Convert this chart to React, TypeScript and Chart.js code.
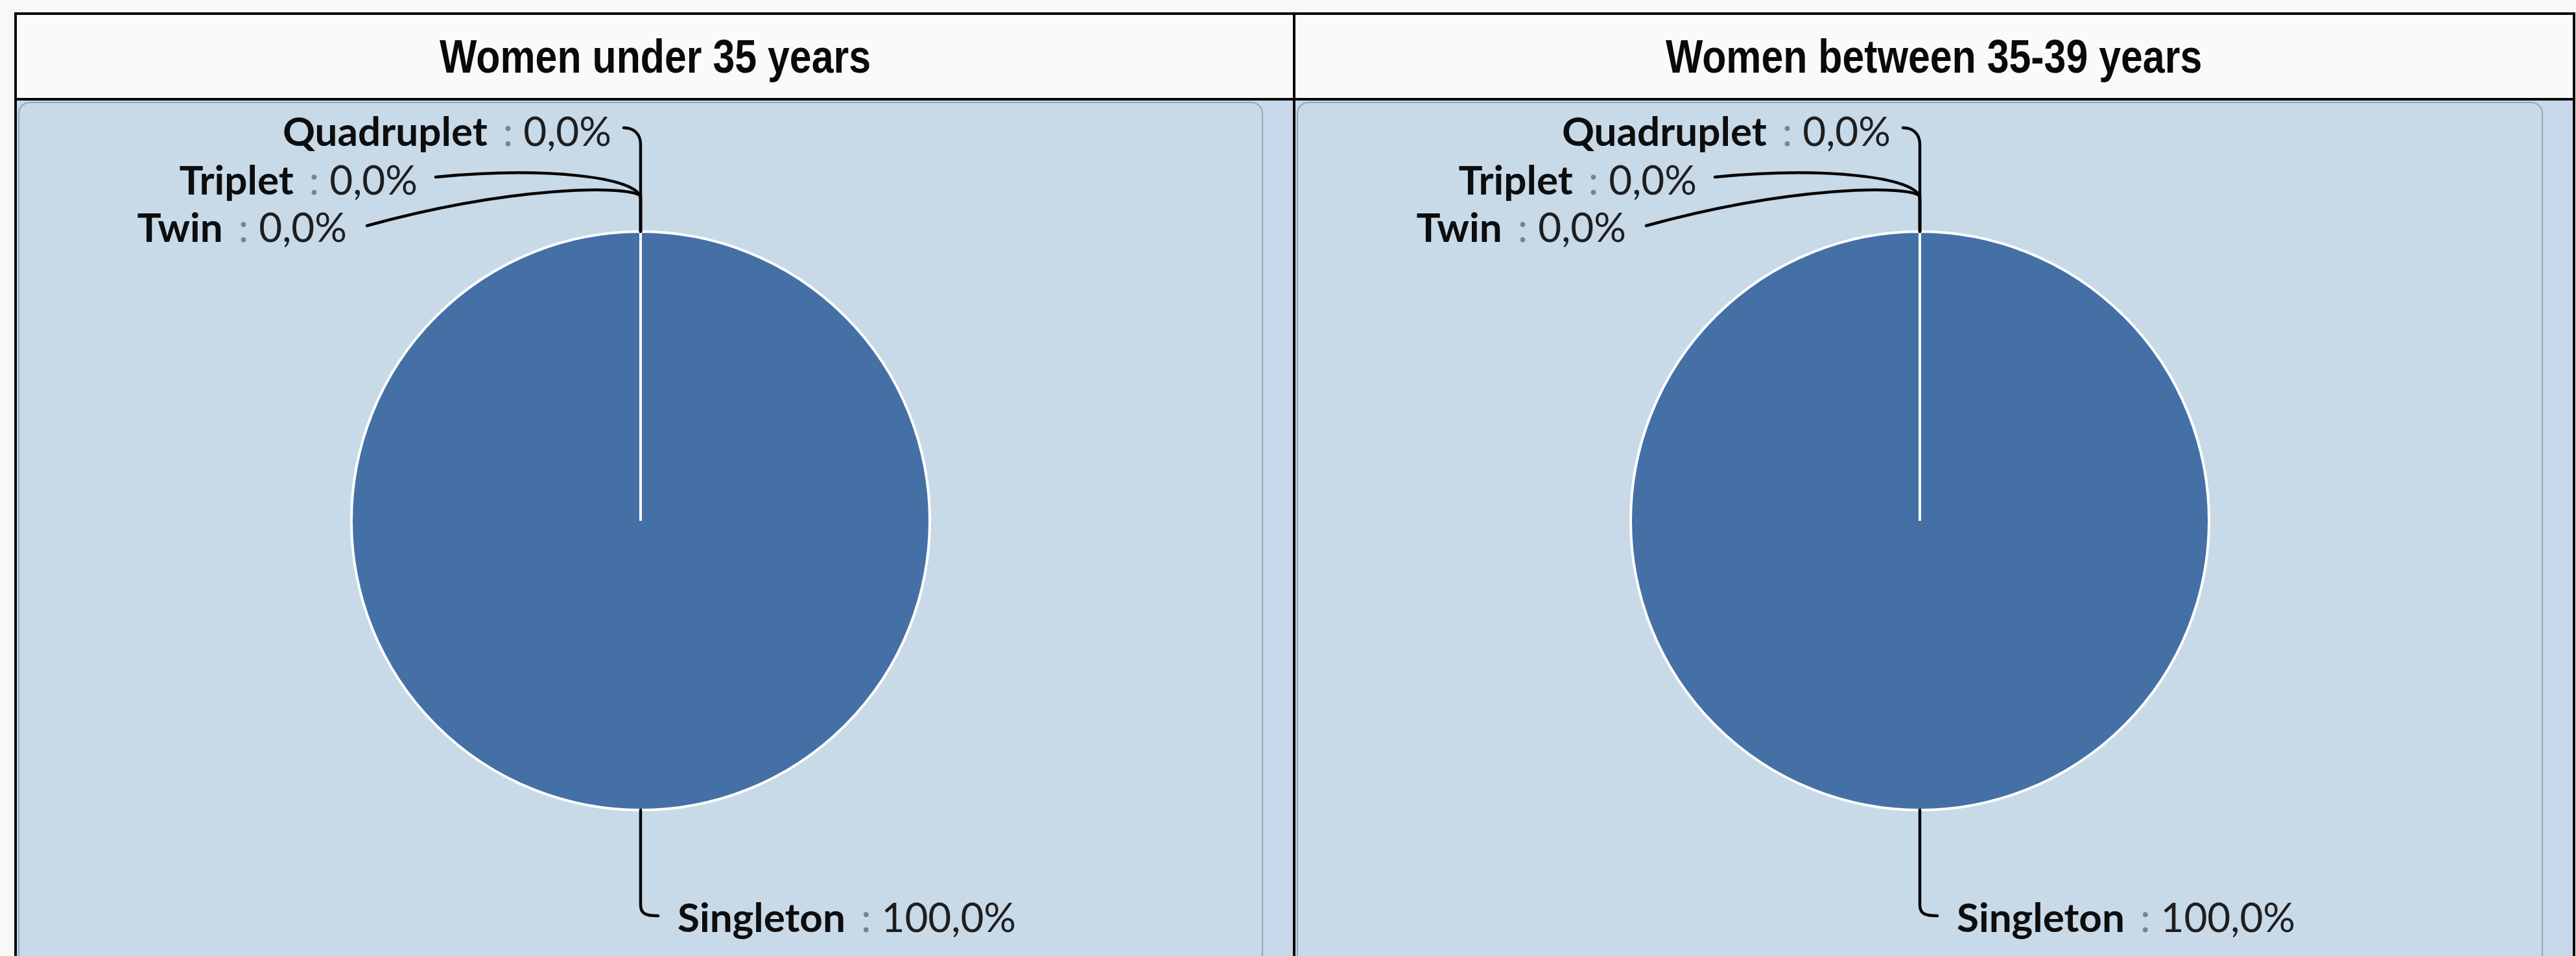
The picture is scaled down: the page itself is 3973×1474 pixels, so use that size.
import React, { useEffect, useRef } from "react";
import { Chart, registerables } from "chart.js";

Chart.register(...registerables);

// ---------- data ----------
const categories = ["Singleton", "Twin", "Triplet", "Quadruplet"];
const under35Values = [100, 0, 0, 0];
const between35to39Values = [100, 0, 0, 0];
const panelTitles = ["Women under 35 years", "Women between 35-39 years"];

const fmtPct = (v: number) => v.toFixed(1).replace(".", ",") + "%";

// ---------- geometry / style ----------
const FRAME_TOP = 19;
const BORDER = 4;
const HEADER_BOTTOM = 151;
const BODY_TOP = HEADER_BOTTOM + BORDER; // 155
const PAGE_H = 1474;
const PIE_CY_PAGE = 803;
const PIE_R = 446;
const PIE_BORDER = 4;

const PANELS = [
  { x0: 26, x1: 1994 },
  { x0: 1998, x1: 3968 },
];
const BOX_LEFT = 2;
const BOX_RIGHT = 46;

const PIE_COLOR = "#4470a6";
const BODY_BG = "#c8d9e8";

type Layout = {
  align: "left" | "right";
  tx: number;
  ty: number;
  vy: number;
  c1: [number, number];
  c2: [number, number];
  end: [number, number];
};

// Leader-line and label placement, relative to each slice's anchor point on the rim
const LABEL_LAYOUT: Record<string, Layout> = {
  Singleton: { align: "left", tx: 57, ty: 188, vy: 146, c1: [0, 160], c2: [8, 163], end: [27, 163] },
  Quadruplet: { align: "right", tx: -45, ty: -132, vy: -134, c1: [0, -150], c2: [-10, -160], end: [-26, -160] },
  Triplet: { align: "right", tx: -344, ty: -57, vy: -50, c1: [0, -85], c2: [-150, -100], end: [-316, -84] },
  Twin: { align: "right", tx: -453, ty: 16, vy: -55, c1: [-20, -72], c2: [-200, -70], end: [-422, -9] },
};

const NAME_FONT = "bold 62px Lato, 'DejaVu Sans', sans-serif";
const VALUE_FONT = "normal 62px Lato, 'DejaVu Sans', sans-serif";

const leaderLabelPlugin = {
  id: "leaderLabels",
  afterDatasetsDraw(chart: any) {
    const ctx: CanvasRenderingContext2D = chart.ctx;
    const meta = chart.getDatasetMeta(0);
    const labels = chart.data.labels as string[];
    const data = chart.data.datasets[0].data as number[];
    ctx.save();
    meta.data.forEach((arc: any, i: number) => {
      const p = arc.getProps(["x", "y", "startAngle", "endAngle", "outerRadius"], true);
      const mid = (p.startAngle + p.endAngle) / 2;
      const ax = p.x + Math.cos(mid) * p.outerRadius;
      const ay = p.y + Math.sin(mid) * p.outerRadius;
      const lay = LABEL_LAYOUT[labels[i]];
      if (!lay) return;
      // leader line
      ctx.beginPath();
      ctx.strokeStyle = "#050505";
      ctx.lineWidth = 4.5;
      ctx.lineCap = "round";
      ctx.lineJoin = "round";
      ctx.moveTo(ax, ay);
      ctx.lineTo(ax, ay + lay.vy);
      ctx.bezierCurveTo(
        ax + lay.c1[0], ay + lay.c1[1],
        ax + lay.c2[0], ay + lay.c2[1],
        ax + lay.end[0], ay + lay.end[1]
      );
      ctx.stroke();

      // label text: name (bold) + " : " + value
      const name = labels[i];
      const value = fmtPct(data[i]);
      ctx.textBaseline = "alphabetic";
      ctx.textAlign = "left";
      ctx.font = NAME_FONT;
      const nameW = ctx.measureText(name).width;
      ctx.font = VALUE_FONT;
      const colonW = ctx.measureText(":").width;
      const valueW = ctx.measureText(value).width;
      const gapA = 24;
      const gapB = 16;
      const total = nameW + gapA + colonW + gapB + valueW;
      const startX = lay.align === "left" ? ax + lay.tx : ax + lay.tx - total;
      const by = ay + lay.ty;
      ctx.font = NAME_FONT;
      ctx.fillStyle = "#0d0d0d";
      ctx.fillText(name, startX, by);
      ctx.font = VALUE_FONT;
      ctx.fillStyle = "#7d838b";
      ctx.fillText(":", startX + nameW + gapA, by);
      ctx.fillStyle = "#1e1e1e";
      ctx.fillText(value, startX + nameW + gapA + colonW + gapB, by);
    });
    ctx.restore();
  },
};

function PiePanel({ title, values, x0, x1 }: { title: string; values: number[]; x0: number; x1: number }) {
  const canvasRef = useRef<HTMLCanvasElement | null>(null);
  const w = x1 - x0;
  const h = PAGE_H - BODY_TOP;
  const boxW = w - BOX_LEFT - BOX_RIGHT;
  const cx = BOX_LEFT + boxW / 2;
  const cy = PIE_CY_PAGE - BODY_TOP;
  const half = PIE_R + PIE_BORDER / 2;

  useEffect(() => {
    const canvas = canvasRef.current;
    if (!canvas) return;
    const chart = new Chart(canvas, {
      type: "pie",
      data: {
        labels: categories,
        datasets: [
          {
            data: values,
            backgroundColor: PIE_COLOR,
            borderColor: "#ffffff",
            borderWidth: PIE_BORDER,
          },
        ],
      },
      options: {
        animation: false,
        responsive: false,
        maintainAspectRatio: false,
        devicePixelRatio: 1,
        layout: {
          padding: {
            left: cx - half,
            right: w - cx - half,
            top: cy - half,
            bottom: h - cy - half,
          },
        },
        plugins: {
          legend: { display: false },
          tooltip: { enabled: false },
          title: { display: false },
        },
        events: [],
      },
      plugins: [leaderLabelPlugin],
    });
    return () => chart.destroy();
  }, []);

  return (
    <>
      {/* header */}
      <div
        style={{
          position: "absolute",
          left: x0,
          top: FRAME_TOP + BORDER,
          width: w,
          height: HEADER_BOTTOM - FRAME_TOP - BORDER,
          background: "#fafafa",
          display: "flex",
          alignItems: "center",
          justifyContent: "center",
        }}
      >
        <span
          style={{
            display: "inline-block",
            fontFamily: "'Liberation Sans', Arial, sans-serif",
            fontWeight: "bold",
            fontSize: 72,
            color: "#0a0a0a",
            whiteSpace: "nowrap",
            transform: "scaleX(0.845)",
            transformOrigin: "center",
          }}
        >
          {title}
        </span>
      </div>
      {/* body */}
      <div
        style={{
          position: "absolute",
          left: x0,
          top: BODY_TOP,
          width: w,
          height: h,
          background: "#c6d8ea",
          overflow: "hidden",
        }}
      >
        <div
          style={{
            position: "absolute",
            left: BOX_LEFT,
            top: 2,
            width: boxW,
            height: h + 40,
            boxSizing: "border-box",
            border: "2px solid #8fa6be",
            borderRadius: 18,
            background: BODY_BG,
          }}
        />
        <canvas
          ref={canvasRef}
          width={w}
          height={h}
          style={{ position: "absolute", left: 0, top: 0, width: w, height: h }}
        />
      </div>
    </>
  );
}

export default function App() {
  const lineStyle = { position: "absolute" as const, background: "#050505" };
  return (
    <div
      style={{
        position: "absolute",
        left: 0,
        top: 0,
        width: 3973,
        height: PAGE_H,
        background: "#f8f8f8",
        overflow: "hidden",
      }}
    >
      <PiePanel title={panelTitles[0]} values={under35Values} x0={PANELS[0].x0} x1={PANELS[0].x1} />
      <PiePanel title={panelTitles[1]} values={between35to39Values} x0={PANELS[1].x0} x1={PANELS[1].x1} />
      {/* frame lines */}
      <div style={{ ...lineStyle, left: 22, top: FRAME_TOP, width: 3972 - 22, height: BORDER }} />
      <div style={{ ...lineStyle, left: 22, top: HEADER_BOTTOM, width: 3972 - 22, height: BORDER }} />
      <div style={{ ...lineStyle, left: 22, top: FRAME_TOP, width: BORDER, height: PAGE_H - FRAME_TOP }} />
      <div style={{ ...lineStyle, left: 1994, top: FRAME_TOP, width: BORDER, height: PAGE_H - FRAME_TOP }} />
      <div style={{ ...lineStyle, left: 3968, top: FRAME_TOP, width: BORDER, height: PAGE_H - FRAME_TOP }} />
    </div>
  );
}
